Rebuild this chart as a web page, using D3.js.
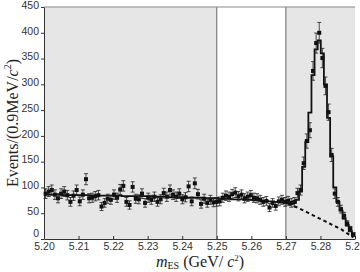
<!DOCTYPE html>
<html>
<head>
    <meta charset="utf-8">
    <title>mES fit</title>
    <script src="https://cdn.jsdelivr.net/npm/d3@7/dist/d3.min.js"></script>
    <style>
        body { margin: 0; background: #fff; }
        .tick text { font-family: "Liberation Sans", Arial, sans-serif; font-size: 10.5px; fill: #333; }
        .lab { font-family: "Liberation Serif", "Times New Roman", serif; font-size: 16px; fill: #222; }
    </style>
</head>
<body>
<svg width="360" height="272" id="mainsvg"></svg>
<script>
    // binning: 100 bins of 0.9 MeV from 5.20 to 5.29 GeV
    const binLow = 5.20;
    const binWidth = 0.0009;

    // measured events per bin
    const counts = [
        88, 92, 95, 86, 79, 88, 92, 85, 72, 84,
        95, 73, 86, 116, 79, 80, 83, 85, 63, 70,
        78, 76, 86, 80, 96, 103, 72, 66, 101, 78,
        77, 88, 70, 80, 76, 82, 72, 77, 89, 82,
        95, 86, 82, 88, 77, 81, 102, 73, 108, 87,
        68, 78, 70, 76, 71, 72, 73, 80, 84, 82,
        87, 90, 83, 86, 79, 82, 85, 80, 79, 76,
        72, 74, 61, 70, 64, 73, 76, 72, 74, 70,
        72, 89, 95, 147, 190, 211, 326, 380, 400, 351,
        297, 246, 163, 88, 72, 58, 45, 30, 20, 9
    ];

    // total fit (signal + background), per bin
    const fitTotal = [
        86, 86, 86, 86, 86, 86, 85, 85, 85, 85,
        85, 85, 85, 85, 85, 84, 84, 84, 84, 84,
        84, 84, 84, 84, 84, 83, 83, 83, 83, 83,
        83, 83, 83, 83, 82, 82, 82, 82, 82, 82,
        81, 81, 81, 81, 81, 81, 80, 80, 80, 80,
        80, 79, 79, 79, 79, 79, 78, 78, 78, 78,
        77, 77, 77, 77, 76, 76, 76, 75, 75, 75,
        74, 74, 73, 73, 72, 72, 71, 70, 69, 68,
        70, 76, 92, 140, 188, 245, 318, 368, 385, 360,
        300, 235, 160, 100, 72, 55, 40, 27, 15, 6
    ];

    // background-only component, bins 78..99
    const bkgStart = 78;
    const bkg = [68, 66, 63, 61, 58, 55, 52, 49, 46, 43, 40, 37, 34, 31, 28, 25, 22, 19, 15, 11, 7, 3];

    const xTicks = [5.20, 5.21, 5.22, 5.23, 5.24, 5.25, 5.26, 5.27, 5.28, 5.29];
    const yTicks = [0, 50, 100, 150, 200, 250, 300, 350, 400, 450];
    const shaded = [[5.20, 5.25], [5.27, 5.29]];

    const svg = d3.select('#mainsvg');
    const margin = { top: 7, right: 5, bottom: 33, left: 44 };
    const width = 360, height = 272;

    const x = d3.scaleLinear().domain([5.20, 5.29]).range([margin.left, width - margin.right]);
    const y = d3.scaleLinear().domain([0, 450]).range([height - margin.bottom, margin.top]);

    // shaded sideband / signal regions
    svg.selectAll('rect.shade').data(shaded).enter().append('rect')
        .attr('class', 'shade')
        .attr('x', d => x(d[0])).attr('width', d => x(d[1]) - x(d[0]))
        .attr('y', y(450)).attr('height', y(0) - y(450))
        .attr('fill', '#e6e6e6');

    // region boundaries
    svg.selectAll('line.bound').data([5.25, 5.27]).enter().append('line')
        .attr('x1', d => x(d)).attr('x2', d => x(d))
        .attr('y1', y(0)).attr('y2', y(450))
        .attr('stroke', '#666').attr('stroke-width', 1);

    // top border
    svg.append('line')
        .attr('x1', x(5.20)).attr('x2', x(5.29)).attr('y1', y(450)).attr('y2', y(450))
        .attr('stroke', '#888').attr('stroke-width', 1);

    // axes
    const xAxis = d3.axisBottom(x).tickValues(xTicks).tickFormat(d3.format('.2f'))
        .tickSizeInner(-3).tickSizeOuter(0).tickPadding(4);
    const gx = svg.append('g').attr('transform', `translate(0,${y(0)})`).call(xAxis);
    gx.select('.domain').attr('stroke', '#333');
    gx.selectAll('.tick line').attr('stroke', '#333');

    const yAxis = d3.axisLeft(y).tickValues(yTicks).tickSizeInner(3).tickSizeOuter(0).tickPadding(2);
    const gy = svg.append('g').attr('transform', `translate(${x(5.20)},0)`).call(yAxis);
    gy.select('.domain').attr('stroke', '#333');
    gy.selectAll('.tick line').attr('stroke', '#333');
    gy.selectAll('.tick text').attr('dy', d => d === 0 ? '-0.2em' : '0.12em');

    // fit as histogram steps
    const edges = fitTotal.map((v, i) => [binLow + i * binWidth, v]);
    edges.push([binLow + fitTotal.length * binWidth, fitTotal[fitTotal.length - 1]]);
    const stepLine = d3.line().x(d => x(d[0])).y(d => y(d[1])).curve(d3.curveStepAfter);
    svg.append('path').attr('d', stepLine(edges))
        .attr('fill', 'none').attr('stroke', '#111').attr('stroke-width', 1.8);

    // background component dashed
    const bkgPts = bkg.map((v, i) => [binLow + (bkgStart + i + 0.5) * binWidth, v]);
    const bkgLine = d3.line().x(d => x(d[0])).y(d => y(d[1])).curve(d3.curveMonotoneX);
    svg.append('path').attr('d', bkgLine(bkgPts))
        .attr('fill', 'none').attr('stroke', '#111').attr('stroke-width', 2)
        .attr('stroke-dasharray', '3.5,3');

    // data points with sqrt(N) error bars
    const pts = counts.map((v, i) => ({ m: binLow + (i + 0.5) * binWidth, v: v, e: Math.sqrt(v) }));
    const gp = svg.append('g').attr('stroke', '#222').attr('stroke-width', 0.8);
    const p = gp.selectAll('g').data(pts).enter().append('g');
    p.append('line')
        .attr('x1', d => x(d.m)).attr('x2', d => x(d.m))
        .attr('y1', d => y(d.v - d.e)).attr('y2', d => y(d.v + d.e));
    p.append('line')
        .attr('x1', d => x(d.m) - 2).attr('x2', d => x(d.m) + 2)
        .attr('y1', d => y(d.v + d.e)).attr('y2', d => y(d.v + d.e));
    p.append('line')
        .attr('x1', d => x(d.m) - 2).attr('x2', d => x(d.m) + 2)
        .attr('y1', d => y(d.v - d.e)).attr('y2', d => y(d.v - d.e));
    p.append('rect')
        .attr('x', d => x(d.m) - 2).attr('y', d => y(d.v) - 2)
        .attr('width', 4).attr('height', 4)
        .attr('fill', '#111').attr('stroke', 'none');

    // labels
    const xl = svg.append('text').attr('class', 'lab')
        .attr('x', 200).attr('y', 267).attr('text-anchor', 'middle').attr('font-size', '15px');
    xl.append('tspan').attr('font-style', 'italic').text('m');
    xl.append('tspan').attr('font-size', '10px').attr('dy', 2).text('ES');
    xl.append('tspan').attr('dy', -2).text(' (GeV/ ');
    xl.append('tspan').attr('font-style', 'italic').text('c');
    xl.append('tspan').attr('font-size', '9px').attr('dy', -6).text('2');
    xl.append('tspan').attr('dy', 6).text(')');

    const yl = svg.append('text').attr('class', 'lab')
        .attr('transform', `translate(18,${(y(0) + y(450)) / 2}) rotate(-90)`)
        .attr('text-anchor', 'middle');
    yl.append('tspan').text('Events/(0.9MeV/');
    yl.append('tspan').attr('font-style', 'italic').text('c');
    yl.append('tspan').attr('font-size', '10px').attr('dy', -7).text('2');
    yl.append('tspan').attr('dy', 7).text(')');
</script>
</body>
</html>
